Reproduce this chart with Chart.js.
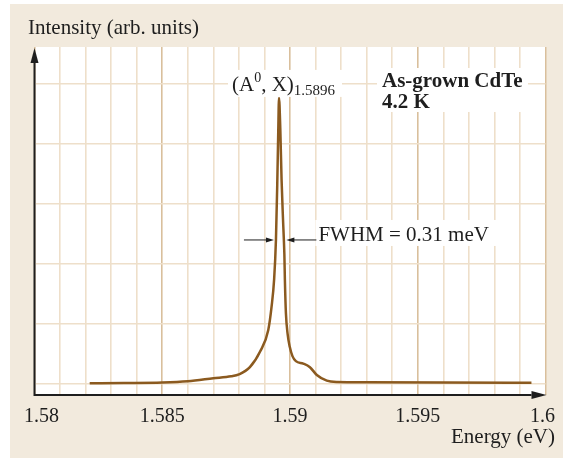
<!DOCTYPE html>
<html>
<head>
<meta charset="utf-8">
<script src="https://cdn.jsdelivr.net/npm/chart.js@4.4.1/dist/chart.umd.min.js"></script>
<style>
  html, body { margin: 0; padding: 0; background: #fff; }
  canvas { display: block; }
</style>
</head>
<body>
<canvas id="plChart" width="563" height="459"></canvas>
<script>
// PL spectrum of as-grown CdTe at 4.2 K
const energy = [
    1.58216, 1.5835, 1.585, 1.586, 1.587, 1.5877, 1.588, 1.58843, 1.58883, 1.58915,
    1.58928, 1.58938, 1.58945, 1.5895, 1.58954, 1.58957, 1.58962, 1.58967, 1.58973, 1.58978,
    1.5898, 1.58984, 1.58991, 1.58999, 1.5901, 1.59023, 1.59052, 1.59078, 1.59105, 1.59144,
    1.59183, 1.593, 1.596, 1.59945
];
const intensity = [
    0.012, 0.016, 0.024, 0.045, 0.095, 0.13, 0.16, 0.28, 0.54, 0.90,
    1.29, 1.75, 2.40, 3.30, 4.20, 4.76, 4.25, 3.40, 2.70, 2.15,
    1.73, 1.18, 0.82, 0.62, 0.46, 0.38, 0.34, 0.28, 0.15, 0.055,
    0.033, 0.028, 0.025, 0.022
];
const xTicks = [1.58, 1.585, 1.59, 1.595, 1.6];
const xTickLabels = ['1.58', '1.585', '1.59', '1.595', '1.6'];

// annotation values
const peakEnergy = 1.58957;
const peakValue = 4.76;
const fwhmLeft = 1.58945;
const fwhmRight = 1.58978;

const BEIGE = '#f2eadd';
const GRID_MINOR = '#eedfca';
const GRID_MAJOR = '#d9bf9c';
const CURVE = '#8b5a1f';
const INK = '#1e1e1e';
const SERIF = '"Liberation Serif", "Times New Roman", serif';

// draw a list of text pieces one after another (for sub/superscripts)
function drawRuns(ctx, x, y, runs) {
    runs.forEach(r => {
        ctx.font = r.font;
        ctx.fillText(r.text, x, y + (r.dy || 0));
        x += ctx.measureText(r.text).width;
    });
    return x;
}

function arrow(ctx, x0, x1, y) {
    const dir = Math.sign(x1 - x0);
    ctx.beginPath();
    ctx.moveTo(x0, y);
    ctx.lineTo(x1 - dir * 6, y);
    ctx.stroke();
    ctx.beginPath();
    ctx.moveTo(x1, y);
    ctx.lineTo(x1 - dir * 8, y - 2.5);
    ctx.lineTo(x1 - dir * 8, y + 2.5);
    ctx.closePath();
    ctx.fill();
}

const framePlugin = {
    id: 'frame',
    beforeDraw(chart) {
        const { ctx, chartArea: a } = chart;
        ctx.save();
        ctx.fillStyle = '#fff';
        ctx.fillRect(0, 0, chart.width, chart.height);
        ctx.fillStyle = BEIGE;
        ctx.fillRect(10, 4, chart.width - 10, 454);
        ctx.fillStyle = '#fff';
        ctx.fillRect(a.left, a.top, a.right - a.left + 1, a.bottom - a.top);
        ctx.restore();
    },
    afterDraw(chart) {
        const { ctx, chartArea: a } = chart;
        const xs = chart.scales.x;
        const ys = chart.scales.y;
        ctx.save();

        // axes with arrow heads
        ctx.strokeStyle = INK;
        ctx.fillStyle = INK;
        ctx.lineWidth = 2;
        ctx.beginPath();
        ctx.moveTo(a.left, a.bottom);
        ctx.lineTo(a.left, a.top + 14);
        ctx.moveTo(a.left - 1, a.bottom);
        ctx.lineTo(a.right - 14, a.bottom);
        ctx.stroke();
        ctx.beginPath();
        ctx.moveTo(a.left, a.top + 1);
        ctx.lineTo(a.left - 4, a.top + 16);
        ctx.lineTo(a.left + 4, a.top + 16);
        ctx.closePath();
        ctx.fill();
        ctx.beginPath();
        ctx.moveTo(a.right + 1, a.bottom);
        ctx.lineTo(a.right - 14, a.bottom - 4);
        ctx.lineTo(a.right - 14, a.bottom + 4);
        ctx.closePath();
        ctx.fill();

        // tick labels, kept inside the frame at both ends
        ctx.fillStyle = INK;
        ctx.font = '20px ' + SERIF;
        ctx.textBaseline = 'alphabetic';
        xTicks.forEach((v, i) => {
            const w = ctx.measureText(xTickLabels[i]).width;
            let x = xs.getPixelForValue(v) - w / 2;
            x = Math.max(24, Math.min(x, 555 - w));
            ctx.fillText(xTickLabels[i], x, a.bottom + 27);
        });

        // axis titles
        ctx.font = '21px ' + SERIF;
        ctx.textAlign = 'left';
        ctx.fillText('Intensity (arb. units)', 28, 34);
        ctx.textAlign = 'right';
        ctx.fillText('Energy (eV)', 555, a.bottom + 48);
        ctx.textAlign = 'left';

        // peak label
        const px = xs.getPixelForValue(peakEnergy);
        const py = ys.getPixelForValue(peakValue);
        ctx.fillStyle = '#fff';
        ctx.fillRect(px - 51, py - 28, 114, 27);
        ctx.fillStyle = INK;
        drawRuns(ctx, px - 47, py - 7, [
            { text: '(A', font: '21px ' + SERIF },
            { text: '0', font: '14px ' + SERIF, dy: -9 },
            { text: ', X)', font: '21px ' + SERIF },
            { text: '1.5896', font: '15px ' + SERIF, dy: 4 }
        ]);

        // sample label
        ctx.fillStyle = '#fff';
        ctx.fillRect(377, 68, 151, 44);
        ctx.fillStyle = INK;
        ctx.font = 'bold 21px ' + SERIF;
        ctx.fillText('As-grown CdTe', 382, 87);
        ctx.fillText('4.2 K', 382, 108);

        // FWHM marker
        const hy = ys.getPixelForValue(peakValue / 2) - 1;
        const lx = xs.getPixelForValue(fwhmLeft) - 2;
        const rx = xs.getPixelForValue(fwhmRight) + 2;
        ctx.fillStyle = '#fff';
        ctx.fillRect(rx + 29, hy - 20, 182, 26);
        ctx.fillStyle = INK;
        ctx.strokeStyle = INK;
        ctx.lineWidth = 1;
        arrow(ctx, lx - 30, lx, hy);
        arrow(ctx, rx + 30, rx, hy);
        ctx.font = '21px ' + SERIF;
        ctx.fillText('FWHM = 0.31 meV', rx + 32, hy + 1);

        ctx.restore();
    }
};

const ctx = document.getElementById('plChart').getContext('2d');
const chart = new Chart(ctx, {
    type: 'line',
    data: {
        datasets: [{
            data: energy.map((e, i) => ({ x: e, y: intensity[i] })),
            borderColor: CURVE,
            borderWidth: 2.5,
            pointRadius: 0,
            fill: false,
            cubicInterpolationMode: 'monotone'
        }]
    },
    options: {
        responsive: false,
        animation: false,
        events: [],
        layout: {
            padding: { left: 34.5, top: 47, right: 17.5, bottom: 64 }
        },
        scales: {
            x: {
                type: 'linear',
                min: 1.58,
                max: 1.6,
                ticks: { display: false, stepSize: 0.001, maxTicksLimit: 50 },
                border: { display: false },
                grid: {
                    drawTicks: false,
                    lineWidth: 1.6,
                    color: c => (Math.round(c.tick.value * 1000) % 5 === 0) ? GRID_MAJOR : GRID_MINOR
                }
            },
            y: {
                type: 'linear',
                min: -0.183,
                max: 5.607,
                ticks: { display: false, stepSize: 1, includeBounds: false },
                border: { display: false },
                grid: { drawTicks: false, lineWidth: 1.6, color: GRID_MINOR }
            }
        },
        plugins: {
            legend: { display: false },
            tooltip: { enabled: false }
        }
    },
    plugins: [framePlugin]
});
</script>
</body>
</html>
